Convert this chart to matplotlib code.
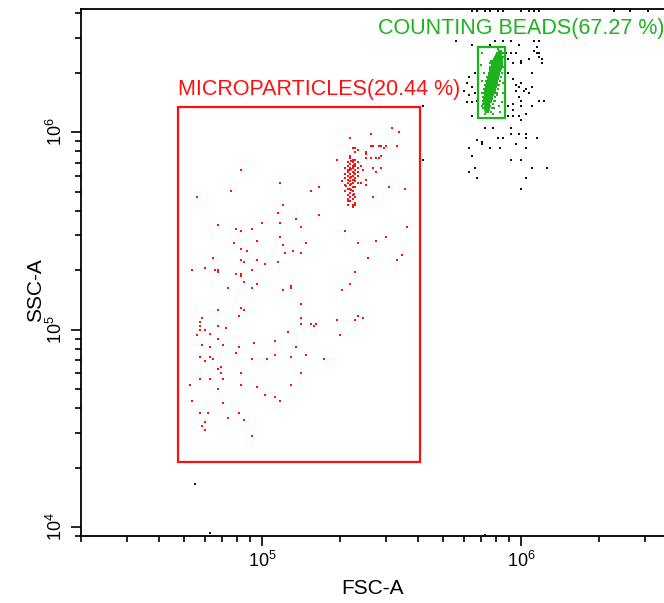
import numpy as np
import matplotlib
matplotlib.use('Agg')
import matplotlib.pyplot as plt
from matplotlib.ticker import LogLocator, NullFormatter
from matplotlib.patches import Rectangle

# 数据以 log10 形式记录 (FSC-A, SSC-A)，直接从图上读出
# 微粒门内的红色事件
red_log = [
    [4.92, 5.81], [5.07, 5.74], [4.88, 5.70], [4.75, 5.67], [5.08, 5.63], [5.06, 5.59],
    [5.00, 5.54], [5.07, 5.54], [5.13, 5.56], [4.83, 5.53], [4.90, 5.51], [4.92, 5.50],
    [4.96, 5.51], [5.15, 5.52], [5.07, 5.47], [4.89, 5.44], [4.98, 5.45], [4.92, 5.41],
    [4.94, 5.40], [5.08, 5.43], [5.09, 5.39], [5.12, 5.40], [5.15, 5.39], [4.81, 5.36],
    [4.92, 5.35], [4.93, 5.34], [4.98, 5.35], [5.01, 5.33], [5.06, 5.34], [4.73, 5.30],
    [4.78, 5.31], [4.82, 5.30], [4.83, 5.30], [4.83, 5.29], [4.96, 5.30], [4.90, 5.28],
    [4.92, 5.28], [4.92, 5.27], [4.93, 5.24], [4.98, 5.23], [5.11, 5.22],
    [5.50, 6.02], [5.53, 6.00], [5.42, 5.99], [5.34, 5.97], [5.42, 5.93], [5.43, 5.93],
    [5.45, 5.93], [5.46, 5.93], [5.48, 5.93], [5.47, 5.92], [5.52, 5.93], [5.36, 5.92],
    [5.35, 5.92], [5.37, 5.91], [5.40, 5.90], [5.40, 5.89], [5.36, 5.90], [5.34, 5.88],
    [5.29, 5.86], [5.40, 5.87], [5.42, 5.87], [5.44, 5.87], [5.45, 5.87], [5.46, 5.88],
    [5.35, 5.86], [5.39, 5.81], [5.43, 5.82], [5.46, 5.82], [5.44, 5.80], [5.40, 5.76],
    [5.37, 5.74], [5.38, 5.74], [5.40, 5.73], [5.49, 5.72], [5.55, 5.71], [5.22, 5.72],
    [5.19, 5.70], [5.43, 5.67], [5.33, 5.65], [5.35, 5.63], [5.36, 5.63], [5.35, 5.62],
    [5.22, 5.58], [5.32, 5.50], [5.56, 5.52], [5.17, 5.44], [5.37, 5.44], [5.44, 5.45],
    [5.48, 5.47], [5.54, 5.38], [5.41, 5.36], [5.52, 5.35], [5.36, 5.29], [5.34, 5.23],
    [4.87, 5.21], [4.96, 5.21], [5.08, 5.20], [5.11, 5.21], [5.15, 5.13], [4.83, 5.10],
    [4.92, 5.11], [4.93, 5.10], [4.91, 5.07], [4.77, 5.06], [4.76, 5.04], [4.76, 5.02],
    [4.83, 5.02], [4.76, 5.00], [4.78, 5.00], [4.86, 5.01], [4.80, 4.98], [4.75, 4.97],
    [4.83, 4.95], [5.10, 4.99], [4.77, 4.92], [4.80, 4.91], [4.85, 4.92], [4.91, 4.91],
    [4.97, 4.93], [5.05, 4.94], [5.13, 4.91], [4.90, 4.88], [4.76, 4.86], [4.80, 4.86],
    [4.81, 4.85], [4.78, 4.84], [4.96, 4.85], [5.02, 4.85], [5.05, 4.87], [5.11, 4.86],
    [4.84, 4.81], [4.83, 4.80], [4.84, 4.78], [4.92, 4.78], [5.15, 4.78], [4.72, 4.72],
    [4.76, 4.75], [4.80, 4.75], [4.85, 4.75], [4.83, 4.70], [4.92, 4.72], [4.98, 4.71],
    [5.11, 4.72], [5.01, 4.67], [5.05, 4.66], [5.07, 4.64], [4.73, 4.64], [4.85, 4.63],
    [4.76, 4.58], [4.79, 4.58], [4.91, 4.58], [4.87, 4.55], [4.93, 4.54], [4.78, 4.53],
    [4.77, 4.51], [4.78, 4.49], [4.96, 4.46],
    [5.31, 5.20], [5.15, 5.06], [5.15, 5.03], [5.19, 5.03], [5.20, 5.02], [5.21, 5.03],
    [5.29, 5.05], [5.37, 5.07], [5.36, 5.05], [5.39, 5.06], [5.30, 4.97], [5.17, 4.87],
    [5.24, 4.85],
    # 红色密集团
    [5.34, 5.87], [5.35, 5.86], [5.36, 5.86], [5.33, 5.85], [5.35, 5.85], [5.37, 5.85],
    [5.34, 5.84], [5.36, 5.84], [5.33, 5.83], [5.35, 5.83], [5.36, 5.83], [5.38, 5.83],
    [5.32, 5.82], [5.34, 5.82], [5.35, 5.82], [5.37, 5.82], [5.33, 5.81], [5.34, 5.81],
    [5.36, 5.81], [5.35, 5.80], [5.33, 5.80], [5.37, 5.80], [5.32, 5.79], [5.34, 5.79],
    [5.36, 5.79], [5.35, 5.78], [5.33, 5.78], [5.37, 5.78], [5.34, 5.77], [5.36, 5.77],
    [5.32, 5.77], [5.35, 5.76], [5.33, 5.76], [5.34, 5.75], [5.36, 5.75], [5.31, 5.75],
    [5.35, 5.74], [5.33, 5.74], [5.37, 5.74], [5.34, 5.73], [5.32, 5.73], [5.35, 5.72],
    [5.36, 5.72], [5.33, 5.71], [5.34, 5.71], [5.32, 5.70], [5.35, 5.70], [5.34, 5.69],
    [5.33, 5.68], [5.35, 5.68], [5.34, 5.67], [5.36, 5.67], [5.33, 5.66], [5.35, 5.66],
    [5.34, 5.65], [5.36, 5.64], [5.33, 5.63],
    [5.345, 5.855], [5.355, 5.835], [5.345, 5.815], [5.355, 5.795], [5.345, 5.775],
    [5.355, 5.755], [5.345, 5.735], [5.325, 5.725], [5.345, 5.705], [5.355, 5.685],
]

# 计数微球门内的绿色事件
green_log = [
    [5.914, 6.41], [5.921, 6.41],
    [5.907, 6.40], [5.913, 6.40], [5.920, 6.40], [5.926, 6.40],
    [5.903, 6.39], [5.911, 6.39], [5.917, 6.39], [5.924, 6.39],
    [5.899, 6.38], [5.905, 6.38], [5.912, 6.38], [5.919, 6.38], [5.926, 6.38],
    [5.894, 6.37], [5.902, 6.37], [5.908, 6.37], [5.915, 6.37], [5.921, 6.37], [5.928, 6.37],
    [5.892, 6.36], [5.899, 6.36], [5.906, 6.36], [5.912, 6.36], [5.918, 6.36], [5.925, 6.36],
    [5.889, 6.35], [5.895, 6.35], [5.903, 6.35], [5.909, 6.35], [5.916, 6.35], [5.923, 6.35],
    [5.887, 6.34], [5.893, 6.34], [5.900, 6.34], [5.906, 6.34], [5.913, 6.34], [5.920, 6.34],
    [5.926, 6.34],
    [5.884, 6.33], [5.891, 6.33], [5.897, 6.33], [5.904, 6.33], [5.910, 6.33], [5.917, 6.33],
    [5.923, 6.33],
    [5.881, 6.32], [5.888, 6.32], [5.894, 6.32], [5.901, 6.32], [5.907, 6.32], [5.914, 6.32],
    [5.921, 6.32],
    [5.878, 6.31], [5.885, 6.31], [5.892, 6.31], [5.898, 6.31], [5.905, 6.31], [5.911, 6.31],
    [5.918, 6.31],
    [5.876, 6.30], [5.883, 6.30], [5.889, 6.30], [5.896, 6.30], [5.902, 6.30], [5.909, 6.30],
    [5.916, 6.30],
    [5.874, 6.29], [5.880, 6.29], [5.887, 6.29], [5.893, 6.29], [5.900, 6.29], [5.907, 6.29],
    [5.914, 6.29],
    [5.873, 6.28], [5.879, 6.28], [5.885, 6.28], [5.892, 6.28], [5.898, 6.28], [5.905, 6.28],
    [5.912, 6.28],
    [5.871, 6.27], [5.877, 6.27], [5.884, 6.27], [5.890, 6.27], [5.897, 6.27], [5.903, 6.27],
    [5.910, 6.27],
    [5.869, 6.26], [5.875, 6.26], [5.882, 6.26], [5.888, 6.26], [5.895, 6.26], [5.901, 6.26],
    [5.908, 6.26],
    [5.867, 6.25], [5.874, 6.25], [5.880, 6.25], [5.887, 6.25], [5.893, 6.25], [5.900, 6.25],
    [5.906, 6.25],
    [5.866, 6.24], [5.872, 6.24], [5.879, 6.24], [5.885, 6.24], [5.892, 6.24], [5.898, 6.24],
    [5.905, 6.24],
    [5.864, 6.23], [5.870, 6.23], [5.877, 6.23], [5.883, 6.23], [5.890, 6.23], [5.896, 6.23],
    [5.903, 6.23],
    [5.863, 6.22], [5.869, 6.22], [5.875, 6.22], [5.882, 6.22], [5.888, 6.22], [5.895, 6.22],
    [5.901, 6.22],
    [5.861, 6.21], [5.867, 6.21], [5.874, 6.21], [5.880, 6.21], [5.887, 6.21], [5.893, 6.21],
    [5.899, 6.21],
    [5.860, 6.20], [5.866, 6.20], [5.872, 6.20], [5.879, 6.20], [5.885, 6.20], [5.892, 6.20],
    [5.898, 6.20],
    [5.859, 6.19], [5.865, 6.19], [5.871, 6.19], [5.877, 6.19], [5.884, 6.19], [5.890, 6.19],
    [5.858, 6.18], [5.864, 6.18], [5.870, 6.18], [5.876, 6.18], [5.883, 6.18], [5.889, 6.18],
    [5.857, 6.17], [5.863, 6.17], [5.869, 6.17], [5.875, 6.17], [5.881, 6.17], [5.887, 6.17],
    [5.857, 6.16], [5.863, 6.16], [5.869, 6.16], [5.875, 6.16], [5.882, 6.16],
    [5.857, 6.15], [5.864, 6.15], [5.870, 6.15], [5.876, 6.15], [5.882, 6.15],
    [5.858, 6.14], [5.865, 6.14], [5.871, 6.14], [5.877, 6.14],
    [5.859, 6.13], [5.866, 6.13], [5.872, 6.13], [5.878, 6.13],
    [5.860, 6.12], [5.867, 6.12], [5.874, 6.12],
    [5.862, 6.11], [5.869, 6.11], [5.876, 6.11],
    [5.865, 6.10], [5.872, 6.10],
    # 团块边缘
    [5.885, 6.36], [5.880, 6.33], [5.875, 6.30], [5.870, 6.28], [5.866, 6.26],
    [5.862, 6.24], [5.858, 6.22], [5.855, 6.20], [5.852, 6.18], [5.851, 6.16],
    [5.852, 6.14], [5.854, 6.12], [5.932, 6.38], [5.931, 6.33], [5.925, 6.30],
    [5.921, 6.28], [5.917, 6.26], [5.913, 6.24], [5.909, 6.22], [5.906, 6.20],
    [5.899, 6.18], [5.895, 6.16], [5.890, 6.14], [5.886, 6.12], [5.882, 6.10],
    # 门内零散点
    [5.850, 6.40], [5.930, 6.40], [5.855, 6.30], [5.930, 6.25], [5.850, 6.20],
    [5.925, 6.15], [5.860, 6.09], [5.890, 6.09], [5.920, 6.10], [5.925, 6.35],
    [5.850, 6.26], [5.930, 6.20], [5.880, 6.35], [5.915, 6.13], [5.845, 6.34],
    [5.910, 6.42], [5.900, 6.16], [5.905, 6.19], [5.850, 6.13], [5.895, 6.12],
]

# 门外的黑色事件
black_log = [
    [5.75, 6.46], [5.81, 6.44], [5.88, 6.44], [5.90, 6.46], [5.93, 6.46], [5.96, 6.46],
    [5.99, 6.44], [6.05, 6.46], [6.07, 6.46], [6.06, 6.43], [6.05, 6.41], [6.06, 6.40],
    [6.07, 6.40], [6.07, 6.38], [6.08, 6.37], [6.03, 6.37], [6.08, 6.35], [5.94, 6.40],
    [5.96, 6.40], [5.98, 6.40], [5.95, 6.37], [5.97, 6.35], [6.00, 6.35], [6.00, 6.36],
    [6.04, 6.30], [5.95, 6.30], [5.80, 6.28], [5.97, 6.27], [6.00, 6.25], [5.98, 6.24],
    [5.99, 6.23], [6.02, 6.22], [5.98, 6.21], [6.01, 6.21], [5.81, 6.23], [5.82, 6.20],
    [5.81, 6.15], [5.83, 6.16], [6.04, 6.23], [6.03, 6.20], [5.99, 6.18], [6.00, 6.16],
    [5.97, 6.14], [6.00, 6.13], [5.95, 6.13], [6.07, 6.16], [6.09, 6.16], [6.04, 6.13],
    [5.97, 6.11], [6.02, 6.09], [5.97, 6.08], [5.99, 6.08], [5.81, 6.08], [5.95, 6.08],
    [6.00, 6.06], [5.86, 6.02], [5.89, 6.02], [5.96, 6.02], [5.96, 5.99], [5.99, 5.99],
    [6.02, 5.99], [6.02, 5.97], [6.06, 5.97], [5.98, 5.94], [5.91, 5.97], [5.93, 5.97],
    [5.83, 5.96], [5.85, 5.95], [5.85, 5.94], [5.80, 5.92], [5.88, 5.92], [5.92, 5.92],
    [5.81, 5.88], [5.96, 5.86], [6.00, 5.86], [6.02, 5.92], [6.04, 5.82], [6.10, 5.82],
    [5.82, 5.82], [5.80, 5.80], [6.02, 5.77], [5.83, 5.77], [6.00, 5.71],
    [5.82, 6.30], [5.79, 6.25], [5.78, 6.21], [5.80, 6.19], [5.79, 6.15],
    [5.62, 6.13], [5.62, 5.86], [4.74, 4.22], [4.80, 3.97], [5.86, 3.96],
    # 顶端饱和事件
    [5.81, 6.615], [5.83, 6.615], [5.86, 6.615], [5.88, 6.615], [5.91, 6.615],
    [5.93, 6.615], [6.00, 6.615], [6.03, 6.615], [6.05, 6.615], [6.07, 6.615],
    [6.36, 6.615], [6.42, 6.615], [6.49, 6.615],
]

# 门的范围 (log10)
red_gate_log = [4.676, 5.610, 4.329, 6.126]    # fsc0, fsc1, ssc0, ssc1
green_gate_log = [5.834, 5.938, 6.071, 6.430]

red_label = 'MICROPARTICLES(20.44 %)'
green_label = 'COUNTING BEADS(67.27 %)'

plt.rcParams['font.family'] = ['Liberation Sans', 'DejaVu Sans']
plt.rcParams['mathtext.fontset'] = 'custom'
plt.rcParams['mathtext.rm'] = 'Liberation Sans'
plt.rcParams['mathtext.default'] = 'regular'

RED = '#ff1010'
GREEN = '#1db31d'

fig = plt.figure(figsize=(6.64, 6.03), dpi=100)
ax = fig.add_axes([0.122, 0.111, 0.878, 0.874])
ax.set_xscale('log')
ax.set_yscale('log')

blk = 10 ** np.array(black_log)
red = 10 ** np.array(red_log)
grn = 10 ** np.array(green_log)
ax.scatter(blk[:, 0], blk[:, 1], s=3, marker='s', c='#111111', linewidths=0)
ax.scatter(red[:, 0], red[:, 1], s=4, marker='s', c=RED, linewidths=0)
ax.scatter(grn[:, 0], grn[:, 1], s=3.5, marker='s', c=GREEN, linewidths=0)

# 画门
for g, col in [(red_gate_log, RED), (green_gate_log, GREEN)]:
    x0, x1, y0, y1 = 10 ** np.array(g)
    ax.add_patch(Rectangle((x0, y0), x1 - x0, y1 - y0, fill=False,
                           edgecolor=col, linewidth=1.6))

ax.text(10 ** red_gate_log[0], 10 ** 6.187, red_label, color=RED,
        fontsize=15.5, ha='left', va='baseline')
ax.text(10 ** 5.448, 10 ** 6.496, green_label, color=GREEN,
        fontsize=15.5, ha='left', va='baseline')

ax.set_xlim(2.0e4, 3.56e6)
ax.set_ylim(9.0e3, 4.2e6)

for axis in [ax.xaxis, ax.yaxis]:
    axis.set_major_locator(LogLocator(base=10, numticks=10))
    axis.set_minor_locator(LogLocator(base=10, subs=np.arange(2, 10), numticks=20))
    axis.set_minor_formatter(NullFormatter())

ax.tick_params(which='major', direction='out', length=7, width=1.2, labelsize=13)
ax.tick_params(which='minor', direction='out', length=4.5, width=1.2)
ax.tick_params(axis='y', labelrotation=90)
for lbl in ax.get_yticklabels():
    lbl.set_va('center')

ax.spines['right'].set_visible(False)
for s in ['left', 'bottom', 'top']:
    ax.spines[s].set_linewidth(1.3)

ax.set_xlabel('FSC-A', fontsize=15, labelpad=6)
ax.set_ylabel('SSC-A', fontsize=15, labelpad=1)
ax.yaxis.label.set_y(0.467)

fig.savefig('out.png', dpi=100)
